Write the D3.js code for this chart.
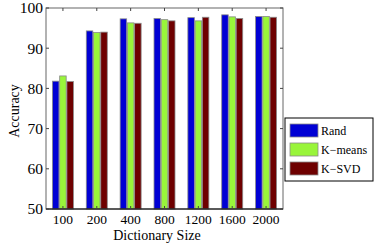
<!DOCTYPE html>
<html lang="en">
<head>
<meta charset="utf-8">
<title>Accuracy vs Dictionary Size</title>
<style>
  body { margin: 0; background: #fff; }
  text { font-family: "Liberation Serif", "Times New Roman", serif; fill: #000; }
  .yax .tick text { font-size: 15.5px; }
  .xax .tick text { font-size: 13.5px; }
  .axisTitle { font-size: 14px; }
  .legendLabel { font-size: 12px; }
</style>
</head>
<body>
<div id="chart"></div>
<script src="https://cdn.jsdelivr.net/npm/d3@7"></script>
<script>
var sizes = ["100", "200", "400", "800", "1200", "1600", "2000"];
var methods = ["Rand", "K\u2212means", "K\u2212SVD"];
var rand   = [81.8, 94.3, 97.3, 97.4, 97.6, 98.3, 97.9];
var kmeans = [83.1, 93.9, 96.3, 97.1, 96.8, 97.8, 97.9];
var ksvd   = [81.7, 94.0, 96.2, 96.8, 97.7, 97.4, 97.7];
var yTicks = [50, 60, 70, 80, 90, 100];
var colors = ["#0000d4", "#99f53a", "#6e0000"];

var W = 374, H = 247,
    margin = {top: 8, right: 91, bottom: 38, left: 46},
    width = W - margin.left - margin.right,
    height = H - margin.top - margin.bottom;

var series = [rand, kmeans, ksvd];

var svg = d3.select("#chart").append("svg")
    .attr("width", W).attr("height", H);

var plt = svg.append("g").attr("transform", "translate(" + margin.left + "," + margin.top + ")");

var x = d3.scaleBand().domain(sizes).range([0, width]).paddingInner(0).paddingOuter(0);
var inner = d3.scaleBand().domain(d3.range(3)).range([x.bandwidth() * 0.19, x.bandwidth() * 0.81]).paddingInner(0.1);
var y = d3.scaleLinear().domain([50, 100]).range([height, 0]);

// bars
sizes.forEach(function(s, i) {
  series.forEach(function(vals, j) {
    plt.append("rect")
      .attr("x", x(s) + inner(j))
      .attr("y", y(vals[i]))
      .attr("width", inner.bandwidth())
      .attr("height", y(50) - y(vals[i]))
      .attr("fill", colors[j])
      .attr("stroke", "#8a8a8a")
      .attr("stroke-width", 0.8);
  });
});

// axes
var yAxis = d3.axisLeft(y).tickValues(yTicks).tickSize(0).tickPadding(3);
var gy = plt.append("g").attr("class", "yax").call(yAxis);
gy.select(".domain").remove();

var xAxis = d3.axisBottom(x).tickSize(0).tickPadding(5);
var gx = plt.append("g").attr("class", "xax").attr("transform", "translate(0," + height + ")").call(xAxis);
gx.select(".domain").remove();

// box
plt.append("rect").attr("width", width).attr("height", height)
  .attr("fill", "none").attr("stroke", "#666").attr("stroke-width", 1);
plt.append("line").attr("x1", 0).attr("x2", width).attr("y1", height).attr("y2", height)
  .attr("stroke", "#000").attr("stroke-width", 1);

// inner ticks
yTicks.forEach(function(t) {
  plt.append("line").attr("x1", 0).attr("x2", 3).attr("y1", y(t)).attr("y2", y(t)).attr("stroke", "#444");
  plt.append("line").attr("x1", width).attr("x2", width - 3).attr("y1", y(t)).attr("y2", y(t)).attr("stroke", "#444");
});
sizes.forEach(function(s) {
  var cx = x(s) + x.bandwidth() / 2;
  plt.append("line").attr("x1", cx).attr("x2", cx).attr("y1", 0).attr("y2", 3).attr("stroke", "#444");
  plt.append("line").attr("x1", cx).attr("x2", cx).attr("y1", height).attr("y2", height - 3).attr("stroke", "#444");
});

// titles
svg.append("text").attr("class", "axisTitle")
  .attr("x", 157).attr("y", 240)
  .attr("text-anchor", "middle").text("Dictionary Size");
svg.append("text").attr("class", "axisTitle")
  .attr("transform", "translate(19,111) rotate(-90)")
  .attr("text-anchor", "middle").text("Accuracy");

// legend
var lg = svg.append("g").attr("transform", "translate(285,118)");
lg.append("rect").attr("width", 88).attr("height", 63)
  .attr("fill", "#fff").attr("stroke", "#000").attr("stroke-width", 1);
methods.forEach(function(m, j) {
  lg.append("rect").attr("x", 5).attr("y", 6 + j * 19).attr("width", 28).attr("height", 13)
    .attr("fill", colors[j]).attr("stroke", "#8a8a8a").attr("stroke-width", 0.8);
  lg.append("text").attr("class", "legendLabel").attr("x", 36).attr("y", 16.5 + j * 19).text(m);
});
</script>
</body>
</html>
